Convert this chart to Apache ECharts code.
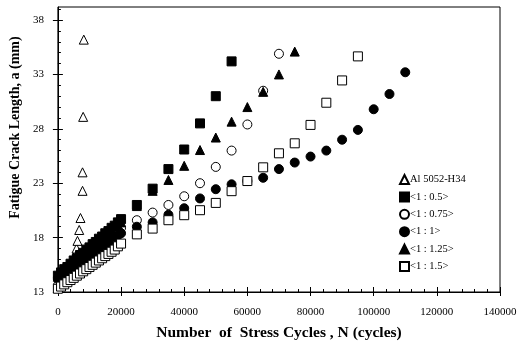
<!DOCTYPE html>
<html>
<head>
<meta charset="utf-8">
<script src="https://cdn.jsdelivr.net/npm/echarts@6/dist/echarts.min.js"></script>
<style>
  html, body { margin: 0; padding: 0; background: #fff; }
  #chart { width: 522px; height: 352px; }
</style>
</head>
<body>
<div id="chart"></div>
<script>
// Fatigue crack growth: crack length a (mm) against stress cycles N.

const seriesNames = ['Al 5052-H34', '<1 : 0.5>', '<1 : 0.75>', '<1 : 1>', '<1 : 1.25>', '<1 : 1.5>'];

const xTicks = [0, 20000, 40000, 60000, 80000, 100000, 120000, 140000];
const yTicks = [13, 18, 23, 28, 33, 38];

// Al 5052-H34 (bare plate)
const cyclesAl = [0, 1000, 2000, 3000, 4000, 5000, 5600, 5900, 6200, 6750, 7150, 7800, 7800, 8000, 8200];
const crackAl  = [14.1, 14.5, 14.9, 15.3, 15.7, 16.1, 16.5, 17.0, 17.7, 18.7, 19.8, 22.3, 24.0, 29.1, 36.2];

// <1 : 0.5>
const cycles05 = [0, 1000, 2000, 3000, 4000, 5000, 6000, 7000, 8000, 9000, 10000, 11000, 12000, 13000, 14000,
                  15000, 16000, 17000, 18000, 19000, 20000, 25000, 30000, 35000, 40000, 45000, 50000, 55000];
const crack05  = [14.5, 14.8, 15.1, 15.3, 15.6, 15.9, 16.1, 16.4, 16.6, 16.9, 17.1, 17.4, 17.6, 17.9, 18.1,
                  18.4, 18.6, 18.9, 19.1, 19.4, 19.7, 21.0, 22.5, 24.3, 26.1, 28.5, 31.0, 34.2];

// <1 : 0.75>
const cycles075 = [0, 1000, 2000, 3000, 4000, 5000, 6000, 7000, 8000, 9000, 10000, 11000, 12000, 13000, 14000,
                   15000, 16000, 17000, 18000, 19000, 20000, 25000, 30000, 35000, 40000, 45000, 50000, 55000,
                   60000, 65000, 70000];
const crack075  = [14.2, 14.4, 14.7, 14.9, 15.2, 15.4, 15.6, 15.9, 16.1, 16.3, 16.6, 16.8, 17.0, 17.3, 17.5,
                   17.7, 18.0, 18.2, 18.4, 18.7, 18.9, 19.6, 20.3, 21.0, 21.8, 23.0, 24.5, 26.0,
                   28.4, 31.5, 34.9];

// <1 : 1>
const cycles10 = [0, 1000, 2000, 3000, 4000, 5000, 6000, 7000, 8000, 9000, 10000, 11000, 12000, 13000, 14000,
                  15000, 16000, 17000, 18000, 19000, 20000, 25000, 30000, 35000, 40000, 45000, 50000, 55000,
                  60000, 65000, 70000, 75000, 80000, 85000, 90000, 95000, 100000, 105000, 110000];
const crack10  = [14.3, 14.5, 14.7, 15.0, 15.2, 15.4, 15.6, 15.8, 16.0, 16.2, 16.4, 16.6, 16.8, 17.0, 17.2,
                  17.4, 17.6, 17.8, 18.0, 18.2, 18.4, 19.0, 19.4, 20.1, 20.7, 21.6, 22.45, 22.9,
                  23.2, 23.5, 24.3, 24.9, 25.45, 26.0, 27.0, 27.9, 29.8, 31.2, 33.2];

// <1 : 1.25>
const cycles125 = [0, 1000, 2000, 3000, 4000, 5000, 6000, 7000, 8000, 9000, 10000, 11000, 12000, 13000, 14000,
                   15000, 16000, 17000, 18000, 19000, 20000, 25000, 30000, 35000, 40000, 45000, 50000, 55000,
                   60000, 65000, 70000, 75000];
const crack125  = [14.4, 14.7, 15.0, 15.2, 15.5, 15.7, 16.0, 16.2, 16.5, 16.7, 17.0, 17.2, 17.5, 17.7, 18.0,
                   18.2, 18.5, 18.7, 19.0, 19.2, 19.4, 20.9, 22.3, 23.3, 24.6, 26.05, 27.2, 28.66,
                   30.0, 31.4, 33.0, 35.1];

// <1 : 1.5>
const cycles15 = [0, 1000, 2000, 3000, 4000, 5000, 6000, 7000, 8000, 9000, 10000, 11000, 12000, 13000, 14000,
                  15000, 16000, 17000, 18000, 19000, 20000, 25000, 30000, 35000, 40000, 45000, 50000, 55000,
                  60000, 65000, 70000, 75000, 80000, 85000, 90000, 95000];
const crack15  = [13.3, 13.5, 13.7, 13.9, 14.1, 14.3, 14.5, 14.7, 14.9, 15.1, 15.3, 15.5, 15.7, 15.9, 16.1,
                  16.3, 16.5, 16.7, 16.9, 17.2, 17.45, 18.3, 18.83, 19.6, 20.06, 20.52, 21.19, 22.27,
                  23.2, 24.46, 25.75, 26.67, 28.36, 30.4, 32.45, 34.66];

const FONT = 'Liberation Serif';

function pairs(xs, ys) {
  return xs.map((x, i) => [x, ys[i]]);
}

function scatter(name, xs, ys, symbol, filled) {
  return {
    name: name,
    type: 'scatter',
    xAxisIndex: 0,
    yAxisIndex: 0,
    symbol: symbol,
    symbolSize: 9,
    itemStyle: {
      color: filled ? '#000' : '#fff',
      borderColor: '#000',
      borderWidth: 1,
      opacity: 1
    },
    emphasis: { disabled: true },
    data: pairs(xs, ys)
  };
}

const integerTicks = [];
for (let v = 13; v <= 39; v++) integerTicks.push(v);

const chart = echarts.init(document.getElementById('chart'), null, { renderer: 'canvas' });

chart.setOption({
  animation: false,
  backgroundColor: '#fff',
  textStyle: { fontFamily: FONT, color: '#000' },
  grid: {
    left: 54, right: 22, top: 7, bottom: 60,
    show: true, borderColor: '#000', borderWidth: 1
  },
  legend: {
    orient: 'vertical',
    left: 394,
    top: 169,
    itemWidth: 9,
    itemHeight: 9,
    itemGap: 6.4,
    selectedMode: false,
    data: seriesNames,
    textStyle: { fontFamily: FONT, fontSize: 10.5, color: '#000', padding: [0, 0, 0, -4] }
  },
  xAxis: [
    {
      type: 'value', position: 'bottom',
      min: 0, max: 140000, interval: 20000,
      name: 'Number  of  Stress Cycles , N (cycles)',
      nameLocation: 'middle', nameGap: 33,
      nameTextStyle: { fontFamily: FONT, fontSize: 15.5, fontWeight: 'bold', color: '#000' },
      axisLine: { onZero: false, lineStyle: { color: '#000', width: 1 } },
      axisTick: { show: true, inside: false, length: 4, lineStyle: { color: '#000' } },
      axisLabel: { fontFamily: FONT, fontSize: 11, color: '#000', margin: 15,
                   customValues: xTicks, formatter: v => String(v) },
      splitLine: { show: false }
    },
    {
      type: 'value', position: 'bottom',
      min: 0, max: 140000, interval: 4000,
      axisLine: { show: false, onZero: false },
      axisTick: { show: true, inside: true, length: 3, lineStyle: { color: '#000' } },
      axisLabel: { show: false },
      splitLine: { show: false }
    },
    {
      type: 'value', position: 'bottom',
      min: 0, max: 140000, interval: 20000,
      axisLine: { show: false, onZero: false },
      axisTick: { show: true, inside: true, length: 5, lineStyle: { color: '#000' } },
      axisLabel: { show: false },
      splitLine: { show: false }
    }
  ],
  yAxis: [
    {
      type: 'value', position: 'left',
      min: 13, max: 39.2,
      name: 'Fatigue Crack Length, a (mm)',
      nameLocation: 'middle', nameGap: 30,
      nameTextStyle: { fontFamily: FONT, fontSize: 14, fontWeight: 'bold', color: '#000',
                       padding: [0, 0, 0, 44] },
      axisLine: { onZero: false, lineStyle: { color: '#000', width: 1 } },
      axisTick: { show: true, inside: false, length: 5, customValues: yTicks,
                  lineStyle: { color: '#000' } },
      axisLabel: { fontFamily: FONT, fontSize: 11, color: '#000', margin: 14,
                   customValues: yTicks },
      splitLine: { show: false }
    },
    {
      type: 'value', position: 'left',
      min: 13, max: 39.2,
      axisLine: { show: false, onZero: false },
      axisTick: { show: true, inside: true, length: 3, customValues: integerTicks,
                  lineStyle: { color: '#000' } },
      axisLabel: { show: false },
      splitLine: { show: false }
    },
    {
      type: 'value', position: 'left',
      min: 13, max: 39.2,
      axisLine: { show: false, onZero: false },
      axisTick: { show: true, inside: true, length: 5, customValues: yTicks,
                  lineStyle: { color: '#000' } },
      axisLabel: { show: false },
      splitLine: { show: false }
    }
  ],
  series: [
    scatter(seriesNames[0], cyclesAl, crackAl, 'triangle', false),
    scatter(seriesNames[1], cycles05, crack05, 'rect', true),
    scatter(seriesNames[2], cycles075, crack075, 'circle', false),
    scatter(seriesNames[3], cycles10, crack10, 'circle', true),
    scatter(seriesNames[4], cycles125, crack125, 'triangle', true),
    scatter(seriesNames[5], cycles15, crack15, 'rect', false)
  ]
});
</script>
</body>
</html>
